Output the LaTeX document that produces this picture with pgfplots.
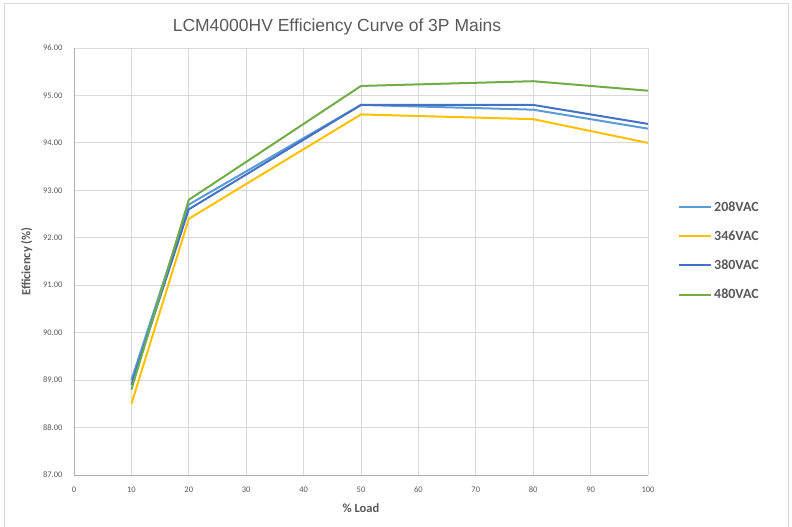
\documentclass[border=0pt]{standalone}
\usepackage{pgfplots}
\pgfplotsset{compat=1.18}
\usepackage{fontspec}
\setmainfont{Carlito}
\newfontfamily\titlefont{Liberation Sans}
\definecolor{c208}{HTML}{5B9BD5}
\definecolor{c346}{HTML}{FFC000}
\definecolor{c380}{HTML}{4472C4}
\definecolor{c480}{HTML}{70AD47}
\definecolor{gridc}{HTML}{D9D9D9}
\definecolor{txtc}{HTML}{595959}
\begin{document}
\begin{tikzpicture}[x=1pt,y=1pt]
\useasboundingbox (0,0) rectangle (792,527);
\draw[gridc, line width=0.8pt] (4,-5) rectangle (788,524);
\node[font=\titlefont\fontsize{17.5}{20}\selectfont, text=txtc] at (337,500) {LCM4000HV Efficiency Curve of 3P Mains};
\begin{axis}[
  at={(74pt,52pt)}, anchor=south west,
  width=574pt, height=427pt, scale only axis,
  xmin=0, xmax=100, ymin=87, ymax=96,
  xtick={0,10,...,100}, ytick={87,88,...,96},
  grid=major, major grid style={gridc, line width=0.8pt},
  axis line style={gridc!80!black, line width=0.8pt},
  axis x line*=bottom, axis y line*=left,
  major tick length=0pt,
  tick label style={font=\fontsize{8.5}{10}\selectfont, text=txtc},
  /pgf/number format/assume math mode=true,
  yticklabel={\pgfmathprintnumber[fixed,fixed zerofill,precision=2]{\tick}},
  xticklabel={\pgfmathprintnumber{\tick}},
  xticklabel style={yshift=-8pt},
  yticklabel style={xshift=-8pt},
  xlabel={\textbf{\% Load}}, ylabel={\textbf{Efficiency (\%)}},
  label style={font=\fontsize{12.5}{14}\selectfont, text=txtc},
  xlabel style={yshift=-4pt},
  ylabel style={yshift=4pt},
  legend style={at={(1.047,0.65)}, anchor=north west, draw=none, fill=none,
    font=\fontsize{14}{16}\selectfont\bfseries, text=txtc, row sep=14pt,
    /tikz/every even column/.append style={column sep=2pt}},
  legend cell align=left,
  legend image code/.code={\draw[#1, line width=2pt] (0pt,0pt) -- (32pt,0pt);},
  every axis plot/.append style={line width=2pt, mark=none},
]
\addplot[c208] coordinates {(10,89.0) (20,92.7) (50,94.8) (80,94.7) (100,94.3)};
\addplot[c346] coordinates {(10,88.5) (20,92.4) (50,94.6) (80,94.5) (100,94.0)};
\addplot[c380] coordinates {(10,88.9) (20,92.6) (50,94.8) (80,94.8) (100,94.4)};
\addplot[c480] coordinates {(10,88.8) (20,92.8) (50,95.2) (80,95.3) (100,95.1)};
\legend{208VAC,346VAC,380VAC,480VAC}
\end{axis}
\end{tikzpicture}
\end{document}
